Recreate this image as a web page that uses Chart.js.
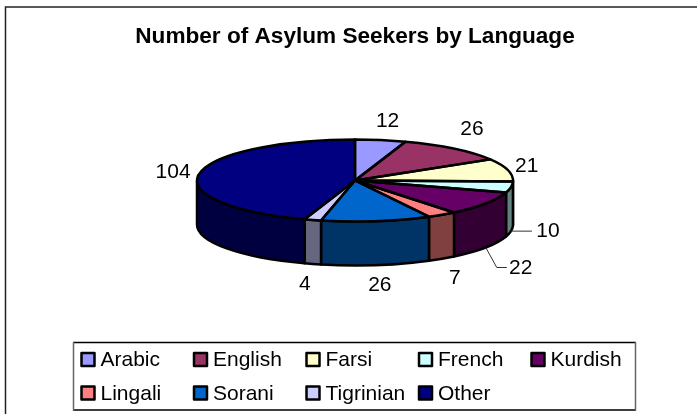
<!DOCTYPE html>
<html>
<head>
<meta charset="utf-8">
<title>Number of Asylum Seekers by Language</title>
<script src="https://cdn.jsdelivr.net/npm/chart.js@4"></script>
<style>
  html, body { margin: 0; padding: 0; background: #fff; }
  #wrap { position: relative; width: 697px; height: 414px; }
</style>
</head>
<body>
<div id="wrap"><canvas id="chart1" width="697" height="414"></canvas></div>
<script>
// --- Data ---
const languages = ["Arabic", "English", "Farsi", "French", "Kurdish", "Lingali", "Sorani", "Tigrinian", "Other"];
const seekers = [12, 26, 21, 10, 22, 7, 26, 4, 104];
const topColors = ["#9999FF", "#993366", "#FFFFCC", "#CCFFFF", "#660066", "#FF8080", "#0066CC", "#CCCCFF", "#000080"];
const wallColors = ["#4D4D80", "#4D1A33", "#808066", "#668080", "#330033", "#804040", "#003366", "#666680", "#000040"];

// --- Look of the tilted pie ---
const FONT = '"Liberation Sans", Arial, sans-serif';
const pieRadius = 158;
const tilt = 41 / 158;
const depth = 44;
const pieCenterY = 180.5;

// label offset from the rim point at each slice's middle angle
const labelOffsets = [[7, -19], [18, -19], [19, -4], [37, 0], [35, 21], [13, 19], [3.5, 20], [-8, 20], [-26, -2]];
// slices with a leader line out to their label
const leaders = { 3: [[21, 0]], 4: [[11, 20], [21, 20]] };

function pieGeometry(chart) {
  const first = chart.getDatasetMeta(0).data[0];
  return { x: first.x, y: pieCenterY, r: first.outerRadius, ry: first.outerRadius * tilt };
}

// the side wall, only the front half of the pie can be seen
function drawWalls(chart) {
  const ctx = chart.ctx;
  const g = pieGeometry(chart);
  chart.getDatasetMeta(0).data.forEach((arc, i) => {
    let a0 = arc.startAngle;
    let a1 = arc.endAngle;
    if (a0 < 0 && a1 < 0) return;
    a0 = Math.max(a0, 0);
    a1 = Math.min(a1, Math.PI);
    if (a1 <= a0) return;
    ctx.beginPath();
    ctx.ellipse(g.x, g.y, g.r, g.ry, 0, a0, a1);
    ctx.ellipse(g.x, g.y + depth, g.r, g.ry, 0, a1, a0, true);
    ctx.closePath();
    ctx.fillStyle = wallColors[i];
    ctx.fill();
    ctx.lineWidth = 2.5;
    ctx.strokeStyle = "#000";
    ctx.lineJoin = "round";
    ctx.stroke();
  });
}

function drawOutlines(chart) {
  const ctx = chart.ctx;
  const g = pieGeometry(chart);
  chart.getDatasetMeta(0).data.forEach(arc => {
    ctx.beginPath();
    ctx.moveTo(g.x, g.y);
    ctx.ellipse(g.x, g.y, g.r, g.ry, 0, arc.startAngle, arc.endAngle);
    ctx.closePath();
    ctx.lineWidth = 2.5;
    ctx.strokeStyle = "#000";
    ctx.lineJoin = "round";
    ctx.stroke();
  });
}

function drawValueLabels(chart) {
  const ctx = chart.ctx;
  const g = pieGeometry(chart);
  ctx.font = "21px " + FONT;
  ctx.textBaseline = "middle";
  chart.getDatasetMeta(0).data.forEach((arc, i) => {
    const mid = (arc.startAngle + arc.endAngle) / 2;
    let px = g.x + g.r * Math.cos(mid);
    let py = g.y + g.ry * Math.sin(mid);
    if (Math.sin(mid) > 0) py += depth;

    if (leaders[i]) {
      ctx.beginPath();
      ctx.moveTo(px, py);
      leaders[i].forEach(p => ctx.lineTo(px + p[0], py + p[1]));
      ctx.lineWidth = 1;
      ctx.strokeStyle = "#333";
      ctx.stroke();
    }

    ctx.fillStyle = "#000";
    ctx.textAlign = "center";
    ctx.fillText(String(seekers[i]), px + labelOffsets[i][0], py + labelOffsets[i][1]);
  });
}

// columns have to line up, which the built in legend does not do
function drawLegend(chart) {
  const ctx = chart.ctx;
  ctx.lineWidth = 1.5;
  ctx.strokeStyle = "#000";
  ctx.beginPath();
  ctx.moveTo(73, 342.5);
  ctx.lineTo(636, 342.5);
  ctx.moveTo(73, 410);
  ctx.lineTo(636, 410);
  ctx.stroke();
  ctx.strokeStyle = "#666";
  ctx.beginPath();
  ctx.moveTo(73.5, 342);
  ctx.lineTo(73.5, 410.5);
  ctx.moveTo(635.5, 342);
  ctx.lineTo(635.5, 410.5);
  ctx.stroke();

  ctx.font = "21px " + FONT;
  ctx.textAlign = "left";
  ctx.textBaseline = "middle";
  languages.forEach((name, i) => {
    const x = 81.5 + (i % 5) * 112.5;
    const y = 359.5 + Math.floor(i / 5) * 33.5;
    ctx.fillStyle = topColors[i];
    ctx.fillRect(x, y - 6.5, 13, 13);
    ctx.lineWidth = 2.5;
    ctx.strokeStyle = "#000";
    ctx.strokeRect(x, y - 6.5, 13, 13);
    ctx.fillStyle = "#000";
    ctx.fillText(name, x + 19, y + 1);
  });
}

const tiltPie = {
  id: "tiltPie",
  beforeDraw(chart) {
    const ctx = chart.ctx;
    ctx.save();
    ctx.fillStyle = "#fff";
    ctx.fillRect(0, 0, chart.width, chart.height);
    // the frame runs off the picture on the right and at the bottom
    ctx.strokeStyle = "#222";
    ctx.lineWidth = 1.5;
    ctx.beginPath();
    ctx.moveTo(5.5, chart.height);
    ctx.lineTo(5.5, 7);
    ctx.lineTo(chart.width, 7);
    ctx.stroke();
    ctx.restore();
  },
  beforeDatasetsDraw(chart) {
    const ctx = chart.ctx;
    const first = chart.getDatasetMeta(0).data[0];
    drawWalls(chart);
    ctx.save();
    ctx.translate(first.x, pieCenterY);
    ctx.scale(1, tilt);
    ctx.translate(-first.x, -first.y);
  },
  afterDatasetsDraw(chart) {
    chart.ctx.restore();
    chart.ctx.save();
    drawOutlines(chart);
    drawValueLabels(chart);
    drawLegend(chart);
    chart.ctx.restore();
  }
};

new Chart(document.getElementById("chart1"), {
  type: "pie",
  data: {
    labels: languages,
    datasets: [{
      data: seekers,
      backgroundColor: topColors,
      borderWidth: 0,
      radius: pieRadius
    }]
  },
  options: {
    responsive: false,
    animation: false,
    events: [],
    layout: { padding: { left: 13 } },
    plugins: {
      legend: { display: false },
      tooltip: { enabled: false },
      title: {
        display: true,
        text: "Number of Asylum Seekers by Language",
        color: "#000",
        font: { family: FONT, size: 22.6, weight: "bold" },
        padding: { top: 23, bottom: 6 }
      }
    }
  },
  plugins: [tiltPie]
});
</script>
</body>
</html>
